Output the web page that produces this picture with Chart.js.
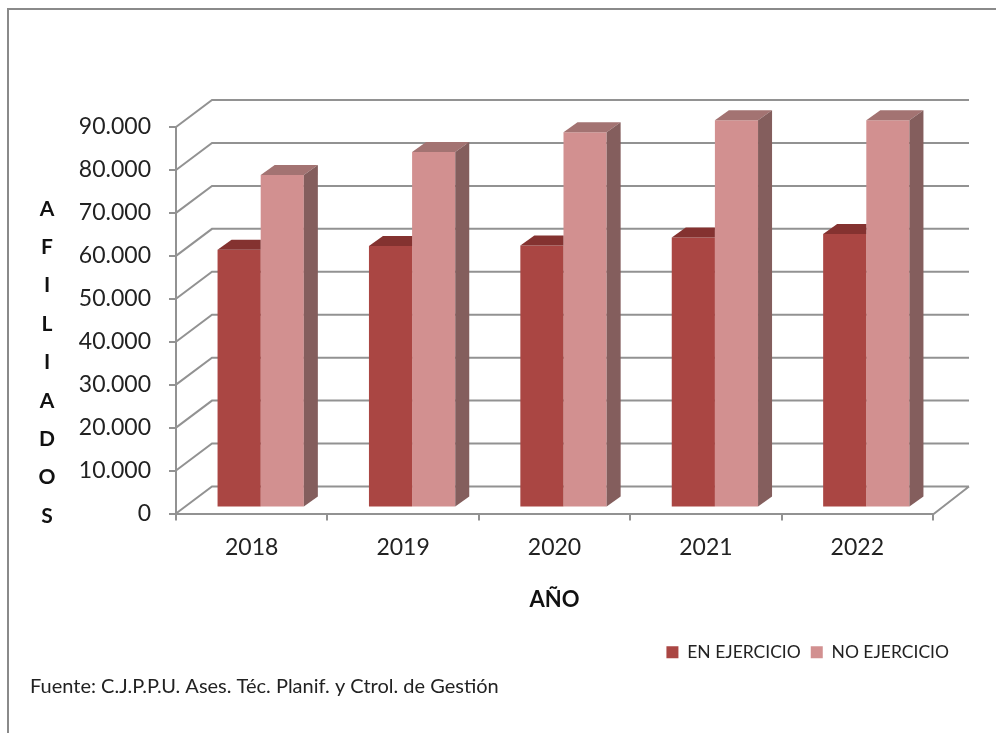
<!DOCTYPE html>
<html>
<head>
<meta charset="utf-8">
<script src="https://cdn.jsdelivr.net/npm/chart.js@4.4.1/dist/chart.umd.min.js"></script>
<style>
  html, body { margin: 0; padding: 0; background: #fff; }
  #wrap { width: 996px; height: 733px; position: relative; }
</style>
</head>
<body>
<div id="wrap"><canvas id="afiliados"></canvas></div>
<script>
// datos
var years = ['2018', '2019', '2020', '2021', '2022'];
var enEjercicio = [60000, 60900, 61000, 62900, 63700];
var noEjercicio = [77400, 82800, 87400, 90200, 90200];
var yTicks = [0, 10000, 20000, 30000, 40000, 50000, 60000, 70000, 80000, 90000];
var yTitle = 'AFILIADOS';

var frontColors = ['#AA4643', '#D29090'];
var topColors = ['#843230', '#A37372'];
var sideColors = ['#6E2A28', '#845E5D'];
var gridColor = '#929292';

// profundidad del "3D"
var WALL = {x: 36, y: -27};   // pared del fondo
var SHIFT = {x: 9, y: -6};    // plano frontal de las barras
var DEPTH = {x: 14, y: -10};  // grosor de cada barra

function fmt(v) {
    return String(v).replace(/\B(?=(\d{3})+(?!\d))/g, '.');
}

var fake3d = {
    id: 'fake3d',
    beforeDatasetsDraw: function(chart) {
        var ctx = chart.ctx, y = chart.scales.y, a = chart.chartArea;
        ctx.save();
        ctx.strokeStyle = gridColor;
        ctx.lineWidth = 2;
        ctx.beginPath();
        y.ticks.forEach(function(t) {
            var py = y.getPixelForValue(t.value);
            ctx.moveTo(a.left, py);
            ctx.lineTo(a.left + WALL.x, py + WALL.y);
            ctx.lineTo(a.right + WALL.x, py + WALL.y);
        });
        var p0 = y.getPixelForValue(0);
        ctx.moveTo(a.right, p0 + 1);
        ctx.lineTo(a.right + WALL.x, p0 + WALL.y);
        ctx.stroke();
        ctx.restore();

        ctx.save();
        ctx.translate(SHIFT.x, SHIFT.y);
    },
    afterDatasetsDraw: function(chart) {
        var ctx = chart.ctx;
        var n = chart.data.datasets.length;
        chart.data.datasets.forEach(function(ds, di) {
            var meta = chart.getDatasetMeta(di);
            meta.data.forEach(function(bar) {
                var p = bar.getProps(['x', 'y', 'base', 'width'], true);
                var l = p.x - p.width / 2, r = p.x + p.width / 2;
                var last = di === n - 1;
                ctx.fillStyle = topColors[di];
                ctx.beginPath();
                ctx.moveTo(l, p.y);
                ctx.lineTo(r, p.y);
                if (last) ctx.lineTo(r + DEPTH.x, p.y + DEPTH.y);
                else ctx.lineTo(r, p.y + DEPTH.y);
                ctx.lineTo(l + DEPTH.x, p.y + DEPTH.y);
                ctx.closePath();
                ctx.fill();
                if (last) {
                    ctx.fillStyle = sideColors[di];
                    ctx.beginPath();
                    ctx.moveTo(r, p.y);
                    ctx.lineTo(r + DEPTH.x, p.y + DEPTH.y);
                    ctx.lineTo(r + DEPTH.x, p.base + DEPTH.y);
                    ctx.lineTo(r, p.base);
                    ctx.closePath();
                    ctx.fill();
                }
            });
        });
        ctx.restore();
    },
    afterDraw: function(chart) {
        var ctx = chart.ctx, y = chart.scales.y;
        ctx.save();
        // marco
        ctx.strokeStyle = '#8a8a8a';
        ctx.lineWidth = 2;
        ctx.strokeRect(8, 9, 1200, 1200);
        // titulo vertical letra a letra
        ctx.fillStyle = '#111';
        ctx.font = 'bold 21px Lato';
        ctx.textAlign = 'center';
        ctx.textBaseline = 'middle';
        var top = y.getPixelForValue(70000) - 4, step = 38.4;
        yTitle.split('').forEach(function(ch, i) {
            ctx.fillText(ch, 47, top + i * step);
        });
        ctx.restore();
    }
};

new Chart(document.getElementById('afiliados'), {
    type: 'bar',
    data: {
        labels: years,
        datasets: [
            { label: 'EN EJERCICIO', data: enEjercicio, backgroundColor: frontColors[0], clip: false },
            { label: 'NO EJERCICIO', data: noEjercicio, backgroundColor: frontColors[1], clip: false }
        ]
    },
    options: {
        responsive: true,
        maintainAspectRatio: false,
        animation: false,
        events: [],
        layout: { padding: { left: 30, top: 127, right: 37, bottom: 26 } },
        datasets: { bar: { categoryPercentage: 0.57, barPercentage: 1, borderWidth: 0 } },
        scales: {
            x: {
                grid: { display: true, drawOnChartArea: false, drawTicks: true, tickLength: 7, color: gridColor, lineWidth: 2 },
                border: { display: true, color: gridColor, width: 2 },
                ticks: { color: '#222', padding: 13, font: { family: 'Lato', size: 23 } },
                title: { display: true, text: 'AÑO', color: '#111', font: { family: 'Lato', size: 22, weight: 'bold' }, padding: { top: 0, bottom: 20 } },
                afterFit: function(s) { s.height = 120; }
            },
            y: {
                min: 0,
                max: 90000,
                afterBuildTicks: function(s) { s.ticks = yTicks.map(function(v) { return {value: v}; }); },
                grid: { display: true, drawOnChartArea: false, drawTicks: true, tickLength: 7, color: gridColor, lineWidth: 2 },
                border: { display: true, color: gridColor, width: 2 },
                ticks: { color: '#222', padding: 18, font: { family: 'Lato', size: 23 }, callback: function(v) { return fmt(v); } },
                afterFit: function(s) { s.width = 146; }
            },
            yr: {
                position: 'right',
                display: true,
                grid: { display: false },
                border: { display: false },
                ticks: { display: false },
                afterFit: function(s) { s.width = 26; }
            }
        },
        plugins: {
            legend: {
                position: 'bottom',
                align: 'end',
                labels: { boxWidth: 12, boxHeight: 12, padding: 10, color: '#222', font: { family: 'Lato', size: 17.5 } }
            },
            subtitle: {
                display: true,
                position: 'bottom',
                align: 'start',
                text: 'Fuente: C.J.P.P.U. Ases. Téc. Planif. y Ctrol. de Gestión',
                color: '#222',
                font: { family: 'Lato', size: 20, weight: 'normal' },
                padding: { top: 4, bottom: 8 }
            },
            tooltip: { enabled: false }
        }
    },
    plugins: [fake3d]
});
</script>
</body>
</html>
